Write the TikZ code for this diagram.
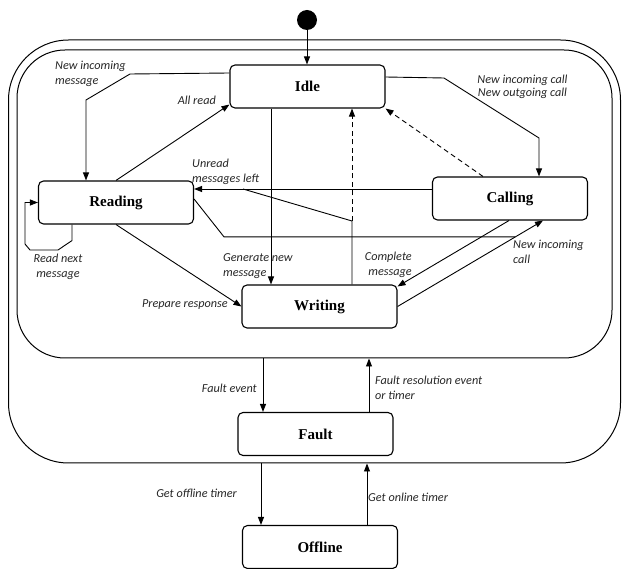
\documentclass[tikz,border=0pt]{standalone}
\usepackage{fontspec}
\setmainfont{Liberation Serif}
\newfontfamily\lblfont{Carlito}
\usetikzlibrary{arrows.meta}

\begin{document}
\begin{tikzpicture}[x=1pt,y=-1pt,
  state/.style={draw,line width=1.1pt,rounded corners=5pt,minimum width=155pt,minimum height=43pt,
    font=\fontsize{15}{18}\selectfont\bfseries},
  region/.style={draw,line width=1pt},
  ln/.style={line width=0.9pt},
  tr/.style={ln,-{Triangle[length=8pt,width=6pt]}},
  dsh/.style={dash pattern=on 5pt off 3.5pt},
  lbl/.style={inner sep=0pt,text=black!85,font=\lblfont\fontsize{12.2}{15}\selectfont\itshape}]
\useasboundingbox (0,0) rectangle (622,569);

% Draw enclosing regions
\node[region,rounded corners=60pt,minimum width=612pt,minimum height=423pt] (outer) at (314.5,251.5) {};
\node[region,rounded corners=48pt,minimum width=595pt,minimum height=308pt] (inner) at (314.5,204) {};

% Draw states
\node[fill,circle,minimum size=20pt,inner sep=0pt] (init) at (307,20) {};
\foreach \name/\x/\y/\txt in {idle/307.5/86.5/Idle, reading/116/202.5/Reading, calling/510/198.5/Calling,
    writing/319.5/306.5/Writing, fault/315.5/434/Fault, offline/320/547/Offline}
  \node[state] (\name) at (\x,\y) {\txt};

% Initial transition
\draw[tr] (init) -- (init |- idle.north);

% Idle to Reading
\coordinate (a1) at (130,74);
\coordinate (a2) at (86,100);
\draw[tr] ([yshift=13.5pt]idle.west) -- (a1) -- (a2) -- (a2 |- reading.north);
\node[lbl,anchor=north west,align=left] (newmsg) at (55,61) {New incoming\\message};

% Reading to Idle
\draw[tr] (reading.north) -- ([yshift=4pt]idle.south west);
\node[lbl,anchor=base east] (allread) at (216,105) {All read};

% Idle to Writing
\coordinate (g1) at ([xshift=-36.5pt]idle.south);
\draw[tr] (g1) -- (g1 |- writing.north);
\node[lbl,anchor=north west,align=left] (genmsg) at (223,253) {Generate new\\message};

% Idle to Calling
\coordinate (b1) at (444,78);
\coordinate (b2) at (539,138);
\draw[tr] ([yshift=9.5pt]idle.east) -- (b1) -- (b2) -- (b2 |- calling.north);
\node[lbl,anchor=north,align=center,font=\lblfont\fontsize{12.2}{13}\selectfont\itshape] (newcall) at (522.5,75)
  {New incoming call\\New outgoing call};

% Calling back to Idle
\draw[tr,dsh] ([xshift=-27pt]calling.north) -- (idle.south east);

% Calling and Writing to Reading
\coordinate (c1) at ([yshift=9.5pt]calling.west);
\draw[tr] (c1) -- (reading.east |- c1);
\coordinate (w1) at ([xshift=32.5pt]writing.north);
\coordinate (wj) at (352,221);
\coordinate (j1) at (243,189);
\draw[ln] (w1) -- (wj) -- (j1);
\draw[tr,dsh] (wj) -- (wj |- idle.south);
\node[lbl,anchor=north west,align=left] (unread) at (192,159) {Unread\\messages left};

% Writing and Reading to Calling
\coordinate (cs) at ([xshift=33pt]calling.south);
\draw[tr] (writing.east) -- (cs);
\path (writing.east) -- (cs) coordinate[pos=0.81] (nj);
\coordinate (r1) at (224,0);
\draw[ln] ([yshift=3.5pt]reading.east) -- (r1 |- nj) -- (nj);
\node[lbl,anchor=north west,align=left] (inccall) at (513,240) {New incoming\\call};

% Calling to Writing
\draw[tr] ([xshift=-1pt]calling.south) -- ([yshift=-2pt]writing.north east);
\node[lbl,anchor=north east,align=right] (complete) at (412,252) {Complete\\message};

% Reading to Writing
\draw[tr] (reading.south) -- (writing.west);
\node[lbl,anchor=base east] (prepare) at (228,308) {Prepare response};

% Reading self loop
\coordinate (s1) at ([xshift=-44pt]reading.south);
\coordinate (s2) at (25,244);
\draw[tr] (s1) -- ++(0,16) -- (58,250) -- (30,250) -- (s2) -- (s2 |- reading.west) -- (reading.west);
\node[lbl,anchor=north,align=center] (readnext) at (58,254) {Read next\\message};

% Fault transitions
\coordinate (f1) at ([xshift=-52.5pt]fault.north);
\coordinate (f2) at ([xshift=53.5pt]fault.north);
\draw[tr] (f1 |- inner.south) -- (f1);
\draw[tr] (f2) -- (f2 |- inner.south);
\node[lbl,anchor=base east] (faultev) at (257,393) {Fault event};
\node[lbl,anchor=north west,align=left] (faultres) at (375,376) {Fault resolution event\\or timer};

% Offline transitions
\coordinate (o1) at ([xshift=-59pt]offline.north);
\coordinate (o2) at ([xshift=47pt]offline.north);
\draw[tr] (o1 |- outer.south) -- (o1);
\draw[tr] (o2) -- (o2 |- outer.south);
\node[lbl,anchor=base east] (offtimer) at (237,498) {Get offline timer};
\node[lbl,anchor=base west] (ontimer) at (368,502) {Get online timer};
\end{tikzpicture}
\end{document}
